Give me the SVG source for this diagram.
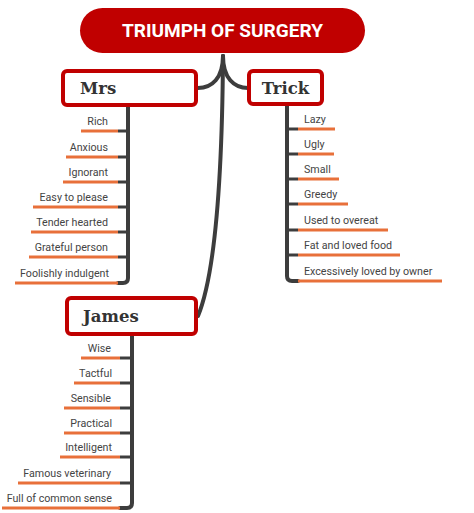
<svg xmlns="http://www.w3.org/2000/svg" width="474" height="513" viewBox="0 0 474 513">
<style>
.conn{fill:none;stroke:#3d3d3d;stroke-width:4;stroke-linecap:round}
.stub{stroke:#3d3d3d;stroke-width:3}
.ul{stroke:#e8703a;stroke-width:3}
.lbl{font-family:Roboto,"Liberation Sans",sans-serif;font-size:10.7px;fill:#444}
.node{fill:#fff;stroke:#c00000;stroke-width:4}
.ntxt{font-family:"DejaVu Serif","Liberation Serif",serif;font-weight:bold;font-size:16.5px;fill:#333}
</style>
<rect width="474" height="513" fill="#fff"/>
<g id="connectors">
<path class="conn" d="M223,56 C223,78 212,88 198,88"/>
<path class="conn" d="M223,56 C223,78 234,88 248,88"/>
<path class="conn" d="M223,56 C222,200 212,282 198,316"/>
<path class="conn" d="M128,106 V278 Q128,283 123,283 H118"/>
<path class="conn" d="M287,105 V276 Q287,281 292,281 H298"/>
<path class="conn" d="M132,336 V503 Q132,508 127,508 H120"/>
</g>
<g id="title">
<rect x="80" y="8" width="285" height="45" rx="22.5" fill="#c00000"/>
<text x="222.5" y="37" text-anchor="middle" font-family="Roboto,'Liberation Sans',sans-serif" font-weight="bold" font-size="19" fill="#fff">TRIUMPH OF SURGERY</text>
</g>
<g id="mrs">
<rect class="node" x="63" y="71" width="133" height="34" rx="4"/>
<text class="ntxt" x="80" y="94">Mrs</text>
</g>
<g id="trick">
<rect class="node" x="249" y="71" width="73" height="33" rx="4"/>
<text class="ntxt" x="285.5" y="94" text-anchor="middle">Trick</text>
</g>
<g id="james">
<rect class="node" x="67" y="298" width="129" height="36" rx="4"/>
<text class="ntxt" x="83" y="322">James</text>
</g>
<g id="mrs-items">
<line class="stub" x1="118" y1="131" x2="128" y2="131"/><line class="ul" x1="81" y1="131" x2="118" y2="131"/><text class="lbl" x="108" y="125" text-anchor="end">Rich</text>
<line class="stub" x1="118" y1="157" x2="128" y2="157"/><line class="ul" x1="66" y1="157" x2="118" y2="157"/><text class="lbl" x="108" y="151" text-anchor="end">Anxious</text>
<line class="stub" x1="118" y1="182" x2="128" y2="182"/><line class="ul" x1="63" y1="182" x2="118" y2="182"/><text class="lbl" x="108" y="176" text-anchor="end">Ignorant</text>
<line class="stub" x1="118" y1="207" x2="128" y2="207"/><line class="ul" x1="33" y1="207" x2="118" y2="207"/><text class="lbl" x="108" y="201" text-anchor="end">Easy to please</text>
<line class="stub" x1="118" y1="232" x2="128" y2="232"/><line class="ul" x1="31" y1="232" x2="118" y2="232"/><text class="lbl" x="108" y="226" text-anchor="end">Tender hearted</text>
<line class="stub" x1="118" y1="257" x2="128" y2="257"/><line class="ul" x1="29" y1="257" x2="118" y2="257"/><text class="lbl" x="108" y="251" text-anchor="end">Grateful person</text>
<line class="ul" x1="15" y1="283" x2="118" y2="283"/><text class="lbl" x="109" y="277" text-anchor="end">Foolishly indulgent</text>
</g>
<g id="trick-items">
<line class="stub" x1="287" y1="129" x2="298" y2="129"/><line class="ul" x1="298" y1="129" x2="335" y2="129"/><text class="lbl" x="304" y="123">Lazy</text>
<line class="stub" x1="287" y1="154" x2="298" y2="154"/><line class="ul" x1="298" y1="154" x2="334" y2="154"/><text class="lbl" x="304" y="148">Ugly</text>
<line class="stub" x1="287" y1="179" x2="298" y2="179"/><line class="ul" x1="298" y1="179" x2="339" y2="179"/><text class="lbl" x="304" y="173">Small</text>
<line class="stub" x1="287" y1="204" x2="298" y2="204"/><line class="ul" x1="298" y1="204" x2="348" y2="204"/><text class="lbl" x="304" y="198">Greedy</text>
<line class="stub" x1="287" y1="230" x2="298" y2="230"/><line class="ul" x1="298" y1="230" x2="388" y2="230"/><text class="lbl" x="304" y="224">Used to overeat</text>
<line class="stub" x1="287" y1="255" x2="298" y2="255"/><line class="ul" x1="298" y1="255" x2="400" y2="255"/><text class="lbl" x="304" y="249">Fat and loved food</text>
<line class="ul" x1="298" y1="281" x2="442" y2="281"/><text class="lbl" x="304" y="275">Excessively loved by owner</text>
</g>
<g id="james-items">
<line class="stub" x1="120" y1="358" x2="132" y2="358"/><line class="ul" x1="81" y1="358" x2="120" y2="358"/><text class="lbl" x="111" y="352" text-anchor="end">Wise</text>
<line class="stub" x1="120" y1="383" x2="132" y2="383"/><line class="ul" x1="74" y1="383" x2="120" y2="383"/><text class="lbl" x="112" y="377" text-anchor="end">Tactful</text>
<line class="stub" x1="120" y1="408" x2="132" y2="408"/><line class="ul" x1="64" y1="408" x2="120" y2="408"/><text class="lbl" x="111" y="402" text-anchor="end">Sensible</text>
<line class="stub" x1="120" y1="433" x2="132" y2="433"/><line class="ul" x1="64" y1="433" x2="120" y2="433"/><text class="lbl" x="112" y="427" text-anchor="end">Practical</text>
<line class="stub" x1="120" y1="457" x2="132" y2="457"/><line class="ul" x1="60" y1="457" x2="120" y2="457"/><text class="lbl" x="112" y="451" text-anchor="end">Intelligent</text>
<line class="stub" x1="120" y1="483" x2="132" y2="483"/><line class="ul" x1="18" y1="483" x2="120" y2="483"/><text class="lbl" x="111" y="477" text-anchor="end">Famous veterinary</text>
<line class="ul" x1="2" y1="508" x2="120" y2="508"/><text class="lbl" x="112" y="502" text-anchor="end">Full of common sense</text>
</g>
</svg>
